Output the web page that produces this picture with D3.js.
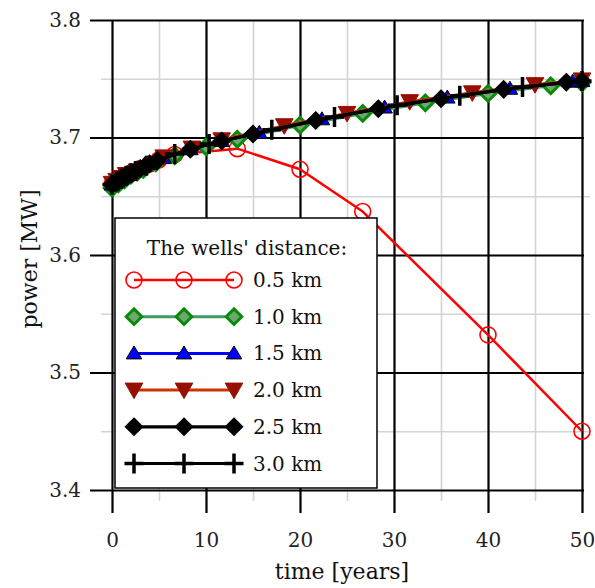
<!DOCTYPE html>
<html>
<head>
<meta charset="utf-8">
<script src="https://cdn.jsdelivr.net/npm/d3@7"></script>
<style>
  html, body { margin: 0; padding: 0; background: #fff; }
  svg { display: block; }
</style>
</head>
<body>
<svg id="chart" width="595" height="588"></svg>
<script>
// ---------------- data ----------------
const seriesNames = ["0.5 km", "1.0 km", "1.5 km", "2.0 km", "2.5 km", "3.0 km"];
const legendTitle = "The wells' distance:";

const t05 = [0, 0.5, 1, 1.5, 2, 3, 4, 5, 6.67, 13.33, 20, 26.67, 40, 50];
const p05 = [3.660, 3.6625, 3.665, 3.6675, 3.6695, 3.6735, 3.6775, 3.681, 3.6855, 3.6905, 3.673, 3.637, 3.532, 3.450];

const t10 = [0, 0.67, 1.33, 2, 2.67, 3.33, 4.67, 6.67, 10, 13.33, 20, 26.67, 33.33, 40, 46.67, 50];
const p10 = [3.657, 3.6605, 3.664, 3.668, 3.6705, 3.673, 3.6785, 3.6845, 3.692, 3.6985, 3.7105, 3.7205, 3.7295, 3.7375, 3.744, 3.7465];

const t15 = [0, 0.5, 1, 1.5, 2, 3, 4, 5.5, 8.33, 11.67, 15.67, 22.33, 29, 35.67, 42.33, 49, 50];
const p15 = [3.660, 3.6625, 3.665, 3.6675, 3.6695, 3.6735, 3.6775, 3.6825, 3.690, 3.697, 3.704, 3.7155, 3.7255, 3.734, 3.7415, 3.7475, 3.748];

const t20 = [0, 0.5, 1, 1.5, 2.67, 5.5, 8.5, 11.67, 18.33, 25, 31.67, 38.33, 45, 50];
const p20 = [3.661, 3.6635, 3.666, 3.6685, 3.6715, 3.6835, 3.691, 3.698, 3.710, 3.7205, 3.7305, 3.738, 3.745, 3.749];

const t25 = [0, 0.33, 0.67, 1, 1.33, 1.67, 2, 2.5, 3, 3.5, 4, 4.83, 8.33, 11.67, 15, 21.67, 28.33, 35, 41.67, 48.33, 50];
const p25 = [3.660, 3.6617, 3.6633, 3.665, 3.6667, 3.6683, 3.6695, 3.6715, 3.6735, 3.6755, 3.6775, 3.6805, 3.690, 3.697, 3.703, 3.7145, 3.7245, 3.733, 3.741, 3.747, 3.748];

const t30 = [0, 0.5, 1, 1.5, 2, 2.5, 3.67, 6.67, 10.33, 17, 23.67, 30.33, 37, 43.67, 50];
const p30 = [3.660, 3.6625, 3.665, 3.6675, 3.6695, 3.6715, 3.676, 3.686, 3.6945, 3.7065, 3.7175, 3.7275, 3.7355, 3.743, 3.748];

const xMajorTicks = [0, 10, 20, 30, 40, 50];
const xMinorTicks = [5, 15, 25, 35, 45];
const yMajorTicks = [3.4, 3.5, 3.6, 3.7, 3.8];
const yMinorTicks = [3.45, 3.55, 3.65, 3.75];
const xTitle = "time [years]";
const yTitle = "power [MW]";

// ---------------- styles ----------------
const styles = [
  { line: "#ff0000", lw: 2.5, marker: "circle",  fill: "none",    stroke: "#ff0000", sw: 1.6 },
  { line: "#3c9c64", lw: 3,   marker: "diamond", fill: "#6fa86f", stroke: "#0a8a0a", sw: 3 },
  { line: "#0000ff", lw: 3,   marker: "triUp",   fill: "#0000ff", stroke: "#000",    sw: 1 },
  { line: "#cc3300", lw: 3,   marker: "triDown", fill: "#960f00", stroke: "#960f00", sw: 1 },
  { line: "#000000", lw: 3.2, marker: "diamond", fill: "#000",    stroke: "#000",    sw: 2.5 },
  { line: "#000000", lw: 3.2, marker: "plus",    fill: "none",    stroke: "#000",    sw: 3.5 }
];
const markerPaths = {
  circle: "M8,0A8,8 0 1,1 -8,0A8,8 0 1,1 8,0Z",
  diamond: "M0,-7.8L7.8,0L0,7.8L-7.8,0Z",
  triUp: "M0,-7.5L7.8,5.5L-7.8,5.5Z",
  triDown: "M-8.8,-7L8.8,-7L0,8.5Z",
  plus: "M-9.5,0H9.5M0,-10V10"
};

const serif = "'DejaVu Serif', 'Liberation Serif', serif";
const series = [
  { t: t05, p: p05 }, { t: t10, p: p10 }, { t: t15, p: p15 },
  { t: t20, p: p20 }, { t: t25, p: p25 }, { t: t30, p: p30 }
].map((s, i) => ({ name: seriesNames[i], pts: s.t.map((t, j) => [t, s.p[j]]), st: styles[i] }));

// ---------------- layout ----------------
const svg = d3.select("#chart");
const L = 112, R = 582, T = 20, B = 490;
const x = d3.scaleLinear().domain([0, 50]).range([L, R]);
const y = d3.scaleLinear().domain([3.4, 3.8]).range([B, T]);

// minor grid (light gray)
const gMinX = svg.append("g").attr("transform", `translate(0,${B + 11})`)
  .call(d3.axisBottom(x).tickValues(xMinorTicks).tickSize(-(B + 11 - T)).tickFormat(""));
const gMinY = svg.append("g").attr("transform", `translate(${L - 11},0)`)
  .call(d3.axisLeft(y).tickValues(yMinorTicks).tickSize(-(590 - (L - 11))).tickFormat(""));
[gMinX, gMinY].forEach(g => {
  g.select(".domain").remove();
  g.selectAll(".tick line").attr("stroke", "#d4d4d4").attr("stroke-width", 1.6);
});

// major grid (black) including frame and outward ticks
const gMajX = svg.append("g").attr("transform", `translate(0,${B + 23})`)
  .call(d3.axisBottom(x).tickValues(xMajorTicks).tickSize(-(B + 23 - T)).tickFormat(""));
const gMajY = svg.append("g").attr("transform", `translate(${L - 22},0)`)
  .call(d3.axisLeft(y).tickValues(yMajorTicks).tickSize(-(R + 2 - (L - 22))).tickFormat(""));
[gMajX, gMajY].forEach(g => {
  g.select(".domain").remove();
  g.selectAll(".tick line").attr("stroke", "#000").attr("stroke-width", 2.2);
});

// tick labels
const gLabX = svg.append("g").attr("transform", `translate(0,${B})`)
  .call(d3.axisBottom(x).tickValues(xMajorTicks).tickSize(0).tickPadding(43).tickFormat(d3.format("d")));
const gLabY = svg.append("g").attr("transform", `translate(${L},0)`)
  .call(d3.axisLeft(y).tickValues(yMajorTicks).tickSize(0).tickPadding(31).tickFormat(d3.format(".1f")));
[gLabX, gLabY].forEach(g => {
  g.select(".domain").remove();
  g.selectAll(".tick line").remove();
  g.selectAll("text").attr("font-family", serif).attr("font-size", 20).attr("fill", "#222");
});

// axis titles
svg.append("text").attr("x", 342).attr("y", 579).attr("text-anchor", "middle")
  .attr("font-family", serif).attr("font-size", 22).attr("fill", "#111").text(xTitle);
svg.append("text").attr("transform", "translate(37,259) rotate(-90)").attr("text-anchor", "middle")
  .attr("font-family", serif).attr("font-size", 22).attr("fill", "#111").text(yTitle);

// series
const line = d3.line().x(d => x(d[0])).y(d => y(d[1]));
series.forEach(s => {
  const g = svg.append("g");
  g.append("path").datum(s.pts).attr("d", line).attr("fill", "none")
    .attr("stroke", s.st.line).attr("stroke-width", s.st.lw).attr("stroke-linejoin", "round");
  g.selectAll("path.m").data(s.pts).join("path").attr("class", "m")
    .attr("transform", d => `translate(${x(d[0])},${y(d[1])})`)
    .attr("d", markerPaths[s.st.marker])
    .attr("fill", s.st.fill).attr("stroke", s.st.stroke).attr("stroke-width", s.st.sw);
});

// legend
const lg = svg.append("g");
lg.append("rect").attr("x", 115).attr("y", 218).attr("width", 262).attr("height", 270)
  .attr("fill", "#fff").attr("stroke", "#000").attr("stroke-width", 1.5);
lg.append("text").attr("x", 247).attr("y", 255).attr("text-anchor", "middle")
  .attr("font-family", serif).attr("font-size", 20).attr("fill", "#111").text(legendTitle);
series.forEach((s, i) => {
  const cy = 280 + i * 36.7;
  const row = lg.append("g").attr("transform", `translate(0,${cy})`);
  row.append("line").attr("x1", 134).attr("x2", 234).attr("y1", 0).attr("y2", 0)
    .attr("stroke", s.st.line).attr("stroke-width", s.st.lw);
  [134, 184, 234].forEach(mx => {
    row.append("path").attr("transform", `translate(${mx},0)`).attr("d", markerPaths[s.st.marker])
      .attr("fill", s.st.fill).attr("stroke", s.st.stroke).attr("stroke-width", s.st.sw);
  });
  row.append("text").attr("x", 253).attr("y", 0).attr("dy", "0.35em")
    .attr("font-family", serif).attr("font-size", 20).attr("fill", "#111").text(s.name);
});
</script>
</body>
</html>
